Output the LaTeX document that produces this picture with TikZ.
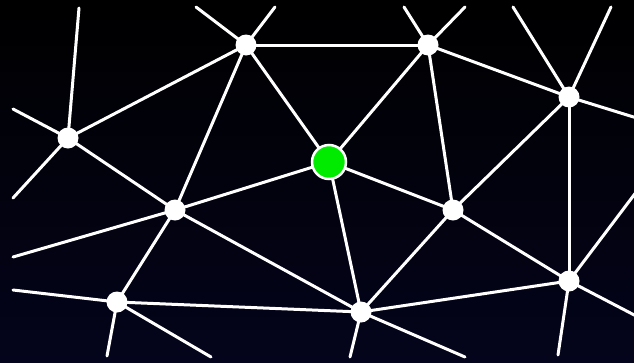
\documentclass[tikz,border=0pt]{standalone}
\definecolor{bgtop}{RGB}{0,0,0}
\definecolor{bgmid}{RGB}{1,1,6}
\definecolor{bgbot}{RGB}{4,4,28}
\definecolor{nodegreen}{RGB}{0,235,0}
\begin{document}
\begin{tikzpicture}[x=1pt,y=-1pt,
  edge/.style={draw=white,line width=3pt,line cap=round},
  dot/.style={circle,fill=white,minimum size=21pt,inner sep=0pt},
  hub/.style={circle,fill=nodegreen,draw=white,line width=2.5pt,minimum size=34pt,inner sep=0pt}]
\shade[top color=bgtop,middle color=bgmid,bottom color=bgbot] (0,0) rectangle (634,362);
\useasboundingbox (0,0) rectangle (634,362);
% node centres
\coordinate (A) at (246,45);
\coordinate (B) at (428,45);
\coordinate (C) at (569,97);
\coordinate (D) at (68,138);
\coordinate (G) at (329,162);
\coordinate (E) at (175,210);
\coordinate (F) at (453,210);
\coordinate (H) at (117,302);
\coordinate (I) at (361,312);
\coordinate (J) at (569,281);
% free ends
\coordinate (a1) at (196,7);
\coordinate (a2) at (275,7);
\coordinate (b1) at (404,7);
\coordinate (b2) at (465,7);
\coordinate (c1) at (513,7);
\coordinate (c2) at (611,7);
\coordinate (c3) at (640,119);
\coordinate (d1) at (79,8);
\coordinate (d2) at (13,109);
\coordinate (d3) at (13,198);
\coordinate (e1) at (13,257);
\coordinate (h1) at (13,290);
\coordinate (h2) at (107,356);
\coordinate (h3) at (211,357);
\coordinate (i1) at (350,357);
\coordinate (i2) at (465,357);
\coordinate (j1) at (640,187);
\coordinate (j2) at (640,318);
\coordinate (j3) at (558,355);
% connectors
\foreach \p/\q in {A/B,A/D,A/G,A/E,B/G,B/F,B/C,C/F,C/J,G/E,G/F,G/I,D/E,E/H,E/I,H/I,F/I,F/J,I/J,
  A/a1,A/a2,B/b1,B/b2,C/c1,C/c2,C/c3,D/d1,D/d2,D/d3,E/e1,H/h1,H/h2,H/h3,I/i1,I/i2,J/j1,J/j2,J/j3}
  \draw[edge] (\p) -- (\q);
% node discs
\foreach \n in {A,B,C,D,E,F,H,I,J}
  \node[dot] (n\n) at (\n) {};
\node[hub] (nG) at (G) {};
\end{tikzpicture}
\end{document}
